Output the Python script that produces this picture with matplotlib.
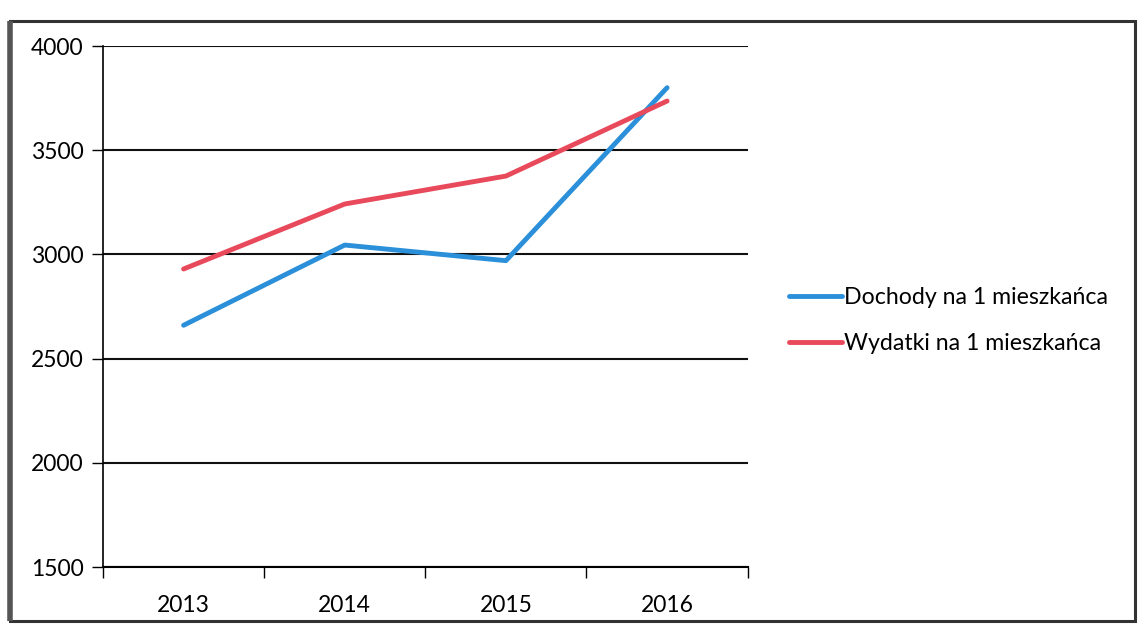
import matplotlib.pyplot as plt
from matplotlib.patches import Rectangle

# dane: dochody i wydatki na 1 mieszkańca
lata = ['2013', '2014', '2015', '2016']
dochody = [2660, 3045, 2970, 3800]
wydatki = [2930, 3242, 3376, 3736]

plt.rcParams['font.family'] = ['Lato', 'DejaVu Sans']

fig = plt.figure(figsize=(11.38, 6.26), dpi=100)
ax = fig.add_axes([0.0905, 0.0942, 0.5665, 0.8323])

x = range(len(lata))
ax.plot(x, dochody, color='#2b90d9', lw=3.5, solid_capstyle='round',
        label='Dochody na 1 mieszkańca')
ax.plot(x, wydatki, color='#e8495b', lw=3.5, solid_capstyle='round',
        label='Wydatki na 1 mieszkańca')

ax.set_ylim(1500, 4000)
ax.set_yticks(range(1500, 4001, 500))
ax.set_xlim(-0.5, len(lata) - 0.5)
# podziałki między kategoriami, etykiety na środku
ax.set_xticks([i - 0.5 for i in range(len(lata) + 1)])
ax.set_xticklabels([])
ax.set_xticks(list(x), minor=True)
ax.set_xticklabels(lata, minor=True)
ax.tick_params(axis='x', which='minor', length=0, pad=20, labelsize=16.5)
ax.tick_params(axis='x', which='major', length=8, width=1, direction='out')
ax.tick_params(axis='y', length=8, width=1, labelsize=16.5, pad=6)

ax.yaxis.grid(True, color='#111111', lw=1.5)
ax.set_axisbelow(True)
for s in ['top', 'right']:
    ax.spines[s].set_visible(False)
ax.spines['left'].set_linewidth(1.2)
ax.spines['bottom'].set_linewidth(1.5)

fig.legend(loc='center left', bbox_to_anchor=(0.675, 0.488), frameon=False,
           fontsize=16.7, handlelength=2.3, handletextpad=0.05, labelspacing=1.05)

# ramka wykresu
fig.patches.append(Rectangle((0.009, 0.008), 0.988, 0.958, transform=fig.transFigure,
                             fill=False, edgecolor='#333333', lw=2.2))
fig.patches.append(Rectangle((0.009, 0.008), 0.0, 0.958, transform=fig.transFigure,
                             fill=False, edgecolor='#555555', lw=4))

fig.savefig('out.png', dpi=100)
